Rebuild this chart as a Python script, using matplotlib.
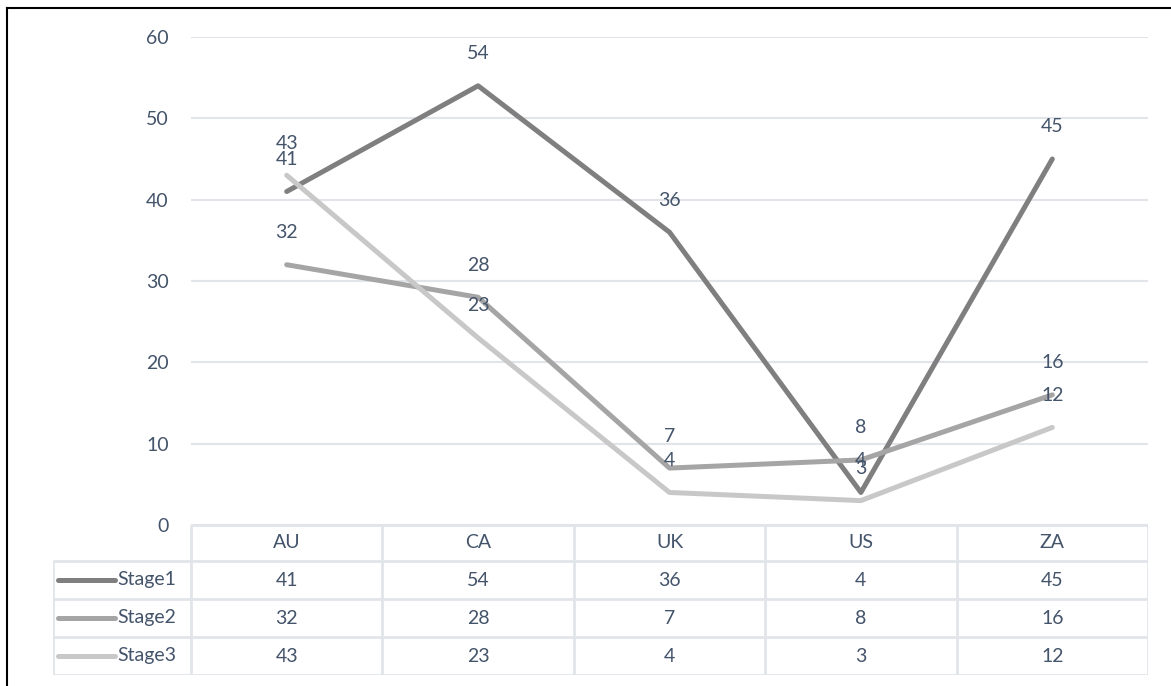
import matplotlib.pyplot as plt
from matplotlib.lines import Line2D

plt.rcParams['font.family'] = ['Lato', 'DejaVu Sans']

countries = ["AU", "CA", "UK", "US", "ZA"]
series_names = ["Stage1", "Stage2", "Stage3"]
stage1 = [41, 54, 36, 4, 45]
stage2 = [32, 28, 7, 8, 16]
stage3 = [43, 23, 4, 3, 12]
y_ticks = [0, 10, 20, 30, 40, 50, 60]

colors = ["#7f7f7f", "#a5a5a5", "#c8c8c8"]
text_color = "#44546a"
grid_color = "#e1e5ea"
fs = 14

W, H = 1171, 686
fig = plt.figure(figsize=(W / 100, H / 100), dpi=100)


def fx(px):
    return px / W


def fy(py):
    return 1 - py / H


# plot area in pixel coordinates of the reference
left, right, top, bottom = 191, 1148, 37, 525
ax = fig.add_axes([fx(left), fy(bottom), fx(right) - fx(left), fy(top) - fy(bottom)])
ax.set_xlim(-0.5, len(countries) - 0.5)
ax.set_ylim(0, 60)
ax.set_yticks(y_ticks)
ax.set_xticks([])
ax.tick_params(axis='y', length=0, pad=16, labelsize=fs, labelcolor=text_color)
ax.grid(axis='y', color=grid_color, lw=1.5)
for s in ax.spines.values():
    s.set_visible(False)

x = list(range(len(countries)))
for vals, c in zip([stage1, stage2, stage3], colors):
    ax.plot(x, vals, color=c, lw=3.6, solid_capstyle='round', zorder=3)
    for xi, v in zip(x, vals):
        ax.annotate(str(v), (xi, v), xytext=(0, 32), textcoords='offset pixels',
                    ha='center', va='center', fontsize=fs, color=text_color, zorder=4)

# data table below the plot
tleft, ttop, tbottom = 53, 525, 675
tab = fig.add_axes([fx(tleft), fy(tbottom), fx(right) - fx(tleft), fy(ttop) - fy(tbottom)])
col_w = (right - left) / len(countries)
leg_w = (left - tleft) / col_w
tab.set_xlim(-0.5 - leg_w, len(countries) - 0.5)
tab.set_ylim(tbottom - ttop, 0)
tab.axis('off')

row_edges = [0, 36, 74, 112, 150]
lkw = dict(color=grid_color, lw=2, solid_capstyle='butt')
# horizontal lines
tab.plot([-0.5, len(countries) - 0.5], [row_edges[0]] * 2, **lkw)
for r in row_edges[1:]:
    tab.plot([-0.5 - leg_w, len(countries) - 0.5], [r, r], **lkw)
# vertical lines
for i in range(len(countries) + 1):
    tab.plot([i - 0.5, i - 0.5], [0, row_edges[-1]], **lkw)
tab.plot([-0.5 - leg_w] * 2, [row_edges[1], row_edges[-1]], **lkw)

for i, c in enumerate(countries):
    tab.text(i, (row_edges[0] + row_edges[1]) / 2, c, ha='center', va='center',
             fontsize=fs, color=text_color)

for r, (name, vals, c) in enumerate(zip(series_names, [stage1, stage2, stage3], colors)):
    yc = (row_edges[r + 1] + row_edges[r + 2]) / 2
    x0 = -0.5 - leg_w + 5 / col_w
    x1 = -0.5 - leg_w + 62 / col_w
    tab.plot([x0, x1], [yc, yc], color=c, lw=3.6, solid_capstyle='round')
    tab.text(x1 + 2 / col_w, yc, name, ha='left', va='center', fontsize=fs, color=text_color)
    for i, v in enumerate(vals):
        tab.text(i, yc, str(v), ha='center', va='center', fontsize=fs, color=text_color)

# outer border (top and left edges visible in the reference)
fig.add_artist(Line2D([fx(7), 1], [fy(8), fy(8)], color='black', lw=1.5, transform=fig.transFigure))
fig.add_artist(Line2D([fx(7), fx(7)], [fy(8), 0], color='black', lw=1.5, transform=fig.transFigure))

fig.savefig("out.png", dpi=100)
